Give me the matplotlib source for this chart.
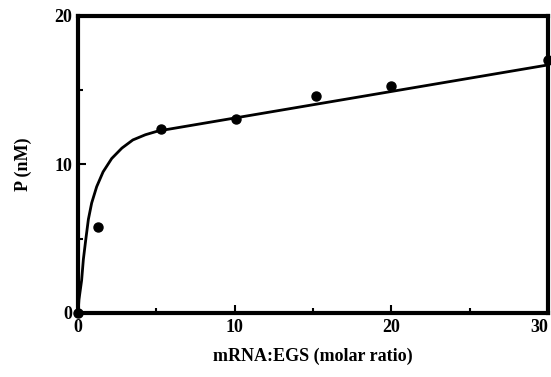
import numpy as np
import matplotlib.pyplot as plt
from matplotlib.ticker import MultipleLocator

# measured points
ratio = [0.0, 1.3, 5.3, 10.1, 15.2, 20.0, 30.0]
prod = [0.0, 5.8, 12.4, 13.05, 14.6, 15.3, 17.0]

# fitted curve
curve_x = [0.0, 0.06, 0.23, 0.34, 0.49, 0.66, 0.87, 1.19, 1.6, 2.15, 2.8,
           3.5, 4.3, 5.1, 30.0]
curve_y = [0.0, 0.9, 2.2, 3.6, 4.9, 6.3, 7.4, 8.5, 9.5, 10.4, 11.1,
           11.65, 12.0, 12.25, 16.7]

xticks = [0, 10, 20, 30]
yticks = [0, 10, 20]

plt.rcParams['font.family'] = ['Liberation Serif', 'DejaVu Serif']
plt.rcParams['font.weight'] = 'bold'

fig = plt.figure(figsize=(5.51, 3.77), dpi=100)
ax = fig.add_axes([0.1416, 0.1698, 0.853, 0.788])

ax.plot(curve_x, curve_y, color='black', lw=2.0, solid_joinstyle='round')
ax.plot(ratio, prod, 'o', color='black', ms=6.5, clip_on=False)

ax.set_xlim(0, 30)
ax.set_ylim(0, 20)
ax.set_xticks(xticks)
ax.set_yticks(yticks)
ax.xaxis.set_minor_locator(MultipleLocator(5))
ax.yaxis.set_minor_locator(MultipleLocator(5))
ax.tick_params(which='both', direction='in', width=1.5, labelsize=13, pad=4)
ax.tick_params(which='major', length=6)
ax.tick_params(which='minor', length=3.5)
for s in ax.spines.values():
    s.set_linewidth(3)
# keep the "30" label inside the picture
ax.xaxis.get_major_ticks()[-1].label1.set_horizontalalignment('right')

ax.set_xlabel('mRNA:EGS (molar ratio)', fontsize=13, fontweight='bold', labelpad=9)
ax.set_ylabel('P (nM)', fontsize=13, fontweight='bold', labelpad=16)

fig.savefig('out.png', dpi=100)
